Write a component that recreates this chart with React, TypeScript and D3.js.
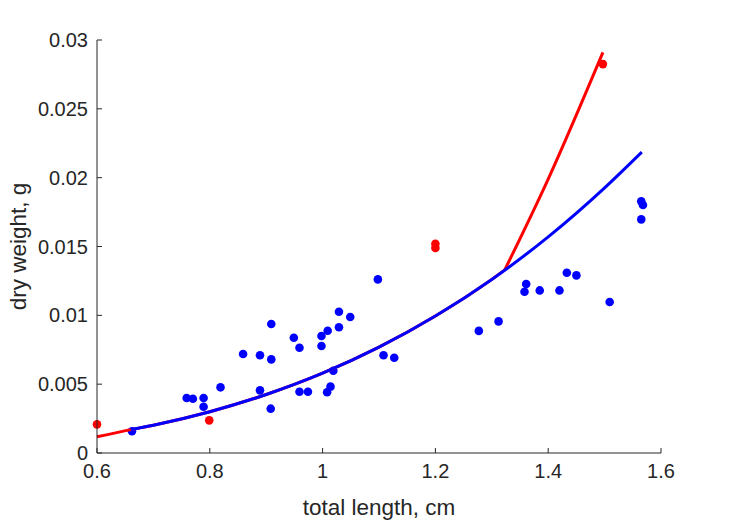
import React from "react";
import * as d3 from "d3";

const blueX = [0.662, 0.759, 0.770, 0.789, 0.789, 0.819, 0.859, 0.889, 0.889, 0.909, 0.909, 0.908,
  0.949, 0.959, 0.959, 0.974, 0.998, 1.009, 0.998, 1.029, 1.049, 1.029, 1.098, 1.019, 1.014, 1.008,
  1.108, 1.127, 1.277, 1.312, 1.361, 1.358, 1.385, 1.420, 1.433, 1.450, 1.509, 1.565, 1.568, 1.565];
const blueY = [0.00158, 0.0040, 0.00394, 0.0040, 0.00336, 0.00477, 0.00719, 0.0071, 0.00455, 0.00937, 0.0068, 0.00322,
  0.00837, 0.00765, 0.00445, 0.00445, 0.0085, 0.00888, 0.00777, 0.01026, 0.00988, 0.00913, 0.01261, 0.00598, 0.00482, 0.00441,
  0.0071, 0.00692, 0.00887, 0.00956, 0.01227, 0.01171, 0.01181, 0.01181, 0.01309, 0.0129, 0.01097, 0.01828, 0.01801, 0.01697];

const redX = [0.6, 0.799, 1.2, 1.2, 1.497];
const redY = [0.00208, 0.00237, 0.0152, 0.0149, 0.02825];

const blueFitX = [0.66, 0.7, 0.8, 0.9, 1.0, 1.1, 1.2, 1.3, 1.4, 1.5, 1.566];
const blueFitY = [0.0017, 0.00202, 0.0030, 0.00425, 0.0058, 0.00769, 0.00995, 0.01261, 0.0157, 0.01926, 0.02186];

// red fit: lower part follows the curve, upper part breaks away at ~1.323
const redLowX = [0.6, 0.66, 0.7, 0.8, 0.9, 1.0, 1.1, 1.2, 1.3, 1.323];
const redLowY = [0.00118, 0.0017, 0.00202, 0.0030, 0.00425, 0.0058, 0.00769, 0.00995, 0.01261, 0.0133];
const redHighX = [1.323, 1.4, 1.497];
const redHighY = [0.0133, 0.0199, 0.0291];

const xTicks = [0.6, 0.8, 1, 1.2, 1.4, 1.6];
const yTicks = [0, 0.005, 0.01, 0.015, 0.02, 0.025, 0.03];

const W = 729, H = 521;
const L = 97, R = 661, T = 40, B = 453;
const AX = "#262626";
const FONT = "'Liberation Sans', Arial, Helvetica, sans-serif";

export default function App() {
  const x = d3.scaleLinear().domain([0.6, 1.6]).range([L, R]);
  const y = d3.scaleLinear().domain([0, 0.03]).range([B, T]);
  const line = d3.line<[number, number]>().x(d => x(d[0])).y(d => y(d[1])).curve(d3.curveMonotoneX);
  const pts = (xs: number[], ys: number[]) => xs.map((v, i) => [v, ys[i]] as [number, number]);
  const redLow = line(pts(redLowX, redLowY)) || "";
  const redHigh = line(pts(redHighX, redHighY)) || "";
  const bluePath = line(pts(blueFitX, blueFitY)) || "";
  return (
    <svg width={W} height={H} style={{ position: "absolute", left: 0, top: 0, background: "#fff" }} fontFamily={FONT}>
      <rect x={0} y={0} width={W} height={H} fill="#fff" />
      {blueX.map((v, i) => (
        <circle key={"b" + i} cx={x(v)} cy={y(blueY[i])} r={4.3} fill="#0000ff" />
      ))}
      {redX.map((v, i) => (
        <circle key={"r" + i} cx={x(v)} cy={y(redY[i])} r={4.3} fill="#ff0000" />
      ))}
      <path d={redLow} fill="none" stroke="#ff0000" strokeWidth={3} />
      <path d={redHigh} fill="none" stroke="#ff0000" strokeWidth={3} />
      <path d={bluePath} fill="none" stroke="#0000ff" strokeWidth={3} />
      <line x1={L} y1={B} x2={R} y2={B} stroke={AX} strokeWidth={1} />
      <line x1={L} y1={B} x2={L} y2={T} stroke={AX} strokeWidth={1} />
      {xTicks.map(t => (
        <g key={"xt" + t}>
          <line x1={x(t)} x2={x(t)} y1={B} y2={B - 5} stroke={AX} strokeWidth={1} />
          <text x={x(t)} y={B + 25} textAnchor="middle" fontSize={20} fill={AX}>{String(t)}</text>
        </g>
      ))}
      {yTicks.map(t => (
        <g key={"yt" + t}>
          <line x1={L} x2={L + 5} y1={y(t)} y2={y(t)} stroke={AX} strokeWidth={1} />
          <text x={L - 9} y={y(t) + 7} textAnchor="end" fontSize={20} fill={AX}>{String(t)}</text>
        </g>
      ))}
      <text x={(L + R) / 2} y={515} textAnchor="middle" fontSize={22.5} fill={AX}>total length, cm</text>
      <text transform={`translate(26,${(T + B) / 2}) rotate(-90)`} textAnchor="middle" fontSize={22.5} fill={AX}>dry weight, g</text>
    </svg>
  );
}
